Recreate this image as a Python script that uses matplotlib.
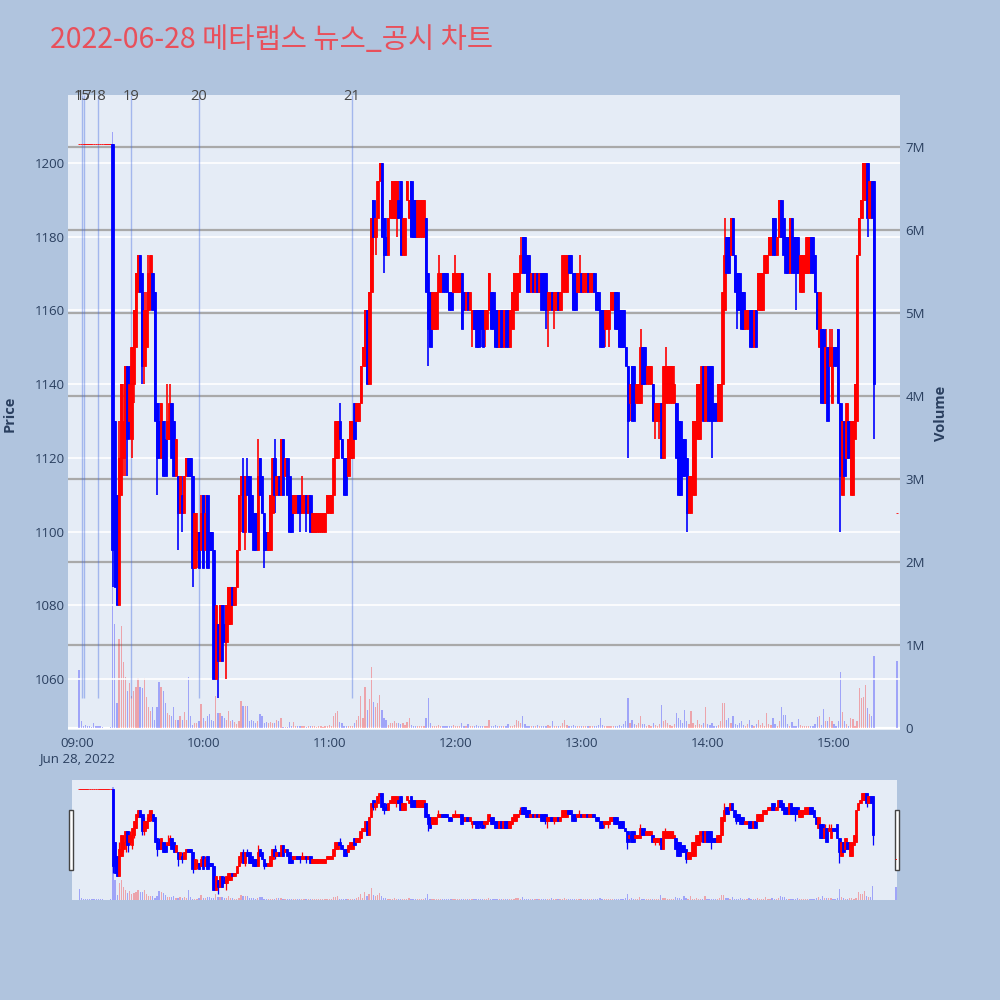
import numpy as np
import matplotlib
matplotlib.use('Agg')
import matplotlib.pyplot as plt
from matplotlib.patches import Rectangle
from matplotlib.transforms import blended_transform_factory

plt.rcParams['font.family'] = ['Open Sans', 'DejaVu Sans']

# 분 단위 (09:00 기준 경과 분)
minute = list(range(1, 380)) + [390]

open_ = [
    1205, 1205, 1205, 1205, 1205, 1205, 1205, 1205, 1205, 1205,
    1205, 1205, 1205, 1205, 1205, 1205, 1205, 1130, 1110, 1080,
    1110, 1120, 1130, 1145, 1130, 1125, 1140, 1150, 1165, 1175,
    1170, 1145, 1150, 1160, 1165, 1170, 1165, 1135, 1130, 1120,
    1130, 1125, 1125, 1125, 1135, 1130, 1115, 1115, 1105, 1110,
    1105, 1115, 1120, 1120, 1115, 1090, 1095, 1100, 1095, 1110,
    1095, 1110, 1100, 1100, 1095, 1060, 1075, 1065, 1080, 1075,
    1070, 1075, 1075, 1085, 1080, 1085, 1095, 1110, 1115, 1100,
    1115, 1115, 1110, 1105, 1105, 1095, 1120, 1115, 1105, 1100,
    1095, 1095, 1105, 1120, 1110, 1115, 1110, 1125, 1115, 1120,
    1115, 1110, 1105, 1105, 1110, 1110, 1105, 1105, 1110, 1105,
    1110, 1100, 1100, 1100, 1100, 1100, 1100, 1100, 1105, 1105,
    1105, 1110, 1120, 1120, 1130, 1125, 1120, 1120, 1115, 1120,
    1120, 1135, 1130, 1130, 1135, 1145, 1145, 1160, 1140, 1165,
    1190, 1180, 1185, 1195, 1200, 1185, 1180, 1175, 1185, 1185,
    1185, 1185, 1190, 1195, 1175, 1175, 1190, 1185, 1195, 1190,
    1190, 1180, 1180, 1180, 1180, 1185, 1170, 1165, 1155, 1155,
    1155, 1165, 1165, 1170, 1170, 1170, 1165, 1165, 1165, 1165,
    1165, 1165, 1170, 1165, 1160, 1165, 1160, 1155, 1160, 1160,
    1160, 1160, 1160, 1155, 1155, 1160, 1165, 1165, 1160, 1160,
    1150, 1160, 1150, 1160, 1160, 1150, 1155, 1160, 1160, 1165,
    1170, 1180, 1180, 1175, 1175, 1165, 1170, 1165, 1170, 1165,
    1170, 1170, 1170, 1160, 1160, 1165, 1160, 1160, 1165, 1160,
    1165, 1165, 1165, 1175, 1175, 1170, 1170, 1165, 1165, 1170,
    1165, 1165, 1170, 1165, 1165, 1170, 1165, 1165, 1160, 1160,
    1155, 1155, 1155, 1160, 1160, 1165, 1165, 1160, 1160, 1160,
    1150, 1145, 1135, 1145, 1145, 1135, 1135, 1135, 1150, 1150,
    1140, 1140, 1140, 1140, 1130, 1130, 1130, 1135, 1120, 1135,
    1135, 1135, 1135, 1135, 1135, 1130, 1130, 1125, 1125, 1120,
    1105, 1105, 1110, 1110, 1125, 1125, 1140, 1145, 1130, 1145,
    1145, 1145, 1135, 1135, 1130, 1130, 1140, 1160, 1180, 1180,
    1175, 1185, 1175, 1170, 1170, 1165, 1165, 1155, 1155, 1160,
    1160, 1150, 1160, 1160, 1160, 1160, 1170, 1170, 1175, 1175,
    1185, 1185, 1175, 1180, 1190, 1185, 1180, 1180, 1170, 1185,
    1180, 1180, 1180, 1165, 1165, 1170, 1170, 1170, 1180, 1180,
    1175, 1165, 1150, 1155, 1155, 1135, 1150, 1145, 1135, 1150,
    1150, 1155, 1135, 1110, 1130, 1120, 1130, 1110, 1110, 1125,
    1130, 1175, 1185, 1190, 1190, 1200, 1185, 1195, 1195,
    1105]

high = [
    1205, 1205, 1205, 1205, 1205, 1205, 1205, 1205, 1205, 1205,
    1205, 1205, 1205, 1205, 1205, 1205, 1205, 1130, 1110, 1130,
    1140, 1140, 1145, 1145, 1145, 1150, 1160, 1170, 1175, 1175,
    1170, 1165, 1165, 1175, 1175, 1170, 1165, 1135, 1135, 1135,
    1130, 1130, 1140, 1140, 1135, 1130, 1125, 1115, 1115, 1115,
    1115, 1120, 1120, 1120, 1115, 1105, 1105, 1100, 1110, 1110,
    1110, 1110, 1100, 1100, 1095, 1080, 1075, 1080, 1080, 1080,
    1080, 1085, 1085, 1085, 1085, 1095, 1110, 1115, 1120, 1115,
    1120, 1115, 1110, 1105, 1105, 1125, 1120, 1115, 1105, 1100,
    1100, 1110, 1120, 1125, 1115, 1115, 1125, 1125, 1120, 1120,
    1115, 1110, 1110, 1110, 1110, 1110, 1115, 1110, 1110, 1110,
    1110, 1105, 1105, 1105, 1105, 1105, 1105, 1105, 1110, 1110,
    1110, 1120, 1130, 1130, 1135, 1125, 1120, 1120, 1125, 1130,
    1130, 1135, 1135, 1135, 1145, 1150, 1160, 1160, 1165, 1185,
    1190, 1185, 1195, 1200, 1200, 1185, 1185, 1185, 1190, 1195,
    1195, 1195, 1195, 1195, 1185, 1185, 1195, 1190, 1195, 1190,
    1190, 1190, 1190, 1190, 1190, 1185, 1170, 1165, 1165, 1165,
    1165, 1175, 1170, 1170, 1170, 1170, 1165, 1165, 1170, 1175,
    1170, 1170, 1170, 1165, 1165, 1165, 1165, 1160, 1160, 1160,
    1160, 1160, 1160, 1160, 1160, 1170, 1165, 1165, 1160, 1160,
    1160, 1160, 1160, 1160, 1160, 1160, 1165, 1170, 1170, 1170,
    1180, 1180, 1180, 1175, 1175, 1170, 1170, 1170, 1170, 1170,
    1170, 1170, 1170, 1165, 1165, 1165, 1165, 1165, 1165, 1165,
    1175, 1175, 1175, 1175, 1175, 1170, 1170, 1170, 1175, 1170,
    1170, 1170, 1170, 1170, 1170, 1170, 1165, 1165, 1160, 1160,
    1160, 1160, 1160, 1165, 1165, 1165, 1165, 1160, 1160, 1160,
    1150, 1145, 1140, 1145, 1145, 1140, 1140, 1155, 1150, 1150,
    1145, 1145, 1145, 1140, 1135, 1135, 1135, 1135, 1145, 1150,
    1145, 1145, 1145, 1145, 1135, 1130, 1130, 1125, 1125, 1120,
    1115, 1115, 1130, 1130, 1140, 1140, 1145, 1145, 1145, 1145,
    1145, 1145, 1135, 1135, 1140, 1140, 1165, 1185, 1180, 1180,
    1185, 1185, 1175, 1170, 1170, 1165, 1165, 1160, 1160, 1160,
    1160, 1160, 1160, 1170, 1170, 1170, 1175, 1175, 1180, 1180,
    1185, 1185, 1180, 1190, 1190, 1185, 1180, 1180, 1185, 1185,
    1180, 1180, 1180, 1175, 1175, 1175, 1180, 1180, 1180, 1180,
    1175, 1165, 1165, 1155, 1155, 1155, 1150, 1155, 1155, 1150,
    1150, 1155, 1135, 1130, 1130, 1135, 1130, 1130, 1130, 1140,
    1175, 1185, 1190, 1200, 1200, 1200, 1195, 1195, 1195,
    1105]

low = [
    1205, 1205, 1205, 1205, 1205, 1205, 1205, 1205, 1205, 1205,
    1205, 1205, 1205, 1205, 1205, 1205, 1085, 1085, 1080, 1080,
    1110, 1115, 1115, 1115, 1125, 1120, 1135, 1150, 1165, 1165,
    1140, 1140, 1150, 1160, 1160, 1160, 1130, 1110, 1120, 1120,
    1115, 1115, 1125, 1125, 1120, 1115, 1115, 1095, 1105, 1100,
    1105, 1115, 1115, 1115, 1085, 1090, 1090, 1090, 1095, 1090,
    1095, 1090, 1095, 1095, 1060, 1060, 1055, 1065, 1065, 1070,
    1060, 1075, 1075, 1080, 1080, 1085, 1095, 1100, 1100, 1095,
    1110, 1100, 1100, 1095, 1095, 1095, 1110, 1105, 1090, 1095,
    1095, 1095, 1105, 1105, 1110, 1110, 1110, 1110, 1115, 1110,
    1100, 1100, 1105, 1105, 1105, 1100, 1105, 1105, 1100, 1105,
    1100, 1100, 1100, 1100, 1100, 1100, 1100, 1100, 1105, 1105,
    1105, 1110, 1120, 1120, 1125, 1120, 1110, 1110, 1115, 1120,
    1120, 1125, 1130, 1130, 1135, 1145, 1145, 1140, 1140, 1165,
    1175, 1175, 1185, 1195, 1180, 1170, 1175, 1175, 1185, 1185,
    1185, 1180, 1185, 1175, 1175, 1175, 1190, 1185, 1180, 1180,
    1180, 1180, 1180, 1180, 1180, 1165, 1145, 1150, 1155, 1155,
    1155, 1165, 1165, 1165, 1165, 1165, 1160, 1160, 1165, 1165,
    1165, 1165, 1155, 1160, 1160, 1160, 1160, 1150, 1155, 1150,
    1150, 1150, 1150, 1150, 1155, 1160, 1155, 1155, 1150, 1150,
    1150, 1150, 1150, 1150, 1150, 1150, 1155, 1160, 1160, 1165,
    1170, 1170, 1170, 1165, 1165, 1165, 1165, 1165, 1165, 1165,
    1160, 1160, 1155, 1150, 1160, 1160, 1155, 1160, 1160, 1160,
    1165, 1165, 1165, 1170, 1170, 1160, 1160, 1165, 1165, 1165,
    1165, 1165, 1165, 1165, 1165, 1165, 1160, 1160, 1150, 1150,
    1150, 1155, 1150, 1160, 1160, 1155, 1155, 1150, 1150, 1150,
    1145, 1120, 1130, 1130, 1130, 1135, 1135, 1135, 1140, 1140,
    1140, 1140, 1140, 1130, 1125, 1130, 1125, 1120, 1120, 1135,
    1135, 1135, 1135, 1135, 1120, 1110, 1110, 1115, 1115, 1100,
    1105, 1105, 1110, 1110, 1125, 1125, 1130, 1130, 1130, 1130,
    1130, 1120, 1130, 1130, 1130, 1130, 1140, 1160, 1170, 1170,
    1175, 1175, 1165, 1155, 1160, 1155, 1155, 1155, 1155, 1150,
    1150, 1150, 1150, 1160, 1160, 1160, 1170, 1170, 1175, 1175,
    1175, 1175, 1175, 1180, 1180, 1175, 1170, 1170, 1170, 1170,
    1170, 1160, 1170, 1165, 1165, 1170, 1170, 1170, 1170, 1170,
    1165, 1155, 1150, 1135, 1135, 1135, 1130, 1145, 1135, 1145,
    1145, 1135, 1100, 1110, 1115, 1120, 1120, 1110, 1110, 1125,
    1130, 1175, 1185, 1190, 1190, 1180, 1185, 1185, 1125,
    1105]

close = [
    1205, 1205, 1205, 1205, 1205, 1205, 1205, 1205, 1205, 1205,
    1205, 1205, 1205, 1205, 1205, 1205, 1095, 1085, 1080, 1120,
    1140, 1130, 1145, 1125, 1140, 1150, 1160, 1170, 1175, 1165,
    1145, 1160, 1160, 1170, 1175, 1160, 1130, 1120, 1120, 1135,
    1115, 1115, 1130, 1135, 1120, 1115, 1125, 1105, 1115, 1105,
    1115, 1120, 1115, 1115, 1090, 1105, 1100, 1090, 1105, 1090,
    1105, 1090, 1095, 1095, 1060, 1080, 1065, 1080, 1065, 1070,
    1080, 1085, 1085, 1080, 1085, 1095, 1110, 1115, 1100, 1115,
    1110, 1100, 1100, 1095, 1095, 1115, 1110, 1105, 1095, 1095,
    1100, 1110, 1120, 1110, 1115, 1110, 1125, 1110, 1120, 1110,
    1100, 1100, 1110, 1110, 1105, 1105, 1110, 1110, 1105, 1110,
    1100, 1105, 1105, 1105, 1105, 1105, 1105, 1105, 1110, 1110,
    1110, 1120, 1130, 1130, 1125, 1120, 1110, 1110, 1125, 1130,
    1130, 1125, 1135, 1135, 1145, 1150, 1160, 1140, 1165, 1185,
    1180, 1185, 1195, 1200, 1180, 1175, 1175, 1185, 1190, 1195,
    1195, 1195, 1185, 1175, 1185, 1185, 1195, 1190, 1180, 1180,
    1180, 1190, 1190, 1190, 1190, 1165, 1155, 1150, 1165, 1165,
    1165, 1170, 1170, 1165, 1165, 1165, 1160, 1160, 1170, 1170,
    1170, 1170, 1155, 1160, 1165, 1160, 1165, 1160, 1155, 1150,
    1150, 1155, 1150, 1160, 1160, 1170, 1155, 1155, 1150, 1150,
    1160, 1150, 1160, 1150, 1150, 1160, 1165, 1170, 1170, 1170,
    1175, 1170, 1170, 1165, 1165, 1170, 1165, 1170, 1165, 1170,
    1160, 1160, 1160, 1165, 1165, 1160, 1165, 1165, 1160, 1165,
    1175, 1175, 1175, 1170, 1170, 1160, 1160, 1170, 1170, 1165,
    1170, 1170, 1165, 1170, 1170, 1165, 1160, 1160, 1150, 1150,
    1160, 1160, 1160, 1165, 1165, 1155, 1155, 1150, 1150, 1150,
    1145, 1130, 1140, 1130, 1130, 1140, 1140, 1150, 1140, 1140,
    1145, 1145, 1145, 1130, 1135, 1135, 1135, 1120, 1145, 1145,
    1145, 1145, 1145, 1140, 1120, 1110, 1110, 1115, 1115, 1105,
    1115, 1115, 1130, 1130, 1140, 1140, 1145, 1130, 1145, 1130,
    1130, 1130, 1130, 1130, 1140, 1140, 1165, 1175, 1170, 1170,
    1185, 1175, 1165, 1160, 1160, 1155, 1155, 1160, 1160, 1150,
    1150, 1160, 1150, 1170, 1170, 1170, 1175, 1175, 1180, 1180,
    1175, 1175, 1180, 1190, 1180, 1175, 1170, 1170, 1185, 1170,
    1170, 1170, 1170, 1175, 1175, 1175, 1180, 1180, 1170, 1170,
    1165, 1155, 1165, 1135, 1135, 1150, 1130, 1150, 1150, 1145,
    1145, 1135, 1115, 1130, 1115, 1135, 1120, 1130, 1130, 1140,
    1175, 1185, 1190, 1200, 1200, 1185, 1195, 1185, 1140,
    1105]

# 거래량 (백만 주)
volume = [
    0.70, 0.09, 0.02, 0.04, 0.03, 0.03, 0.01, 0.06, 0.02, 0.03,
    0.02, 0.01, 0.00, 0.00, 0.00, 0.01, 7.18, 1.25, 0.30, 1.07,
    1.23, 0.80, 0.61, 0.45, 0.54, 0.38, 0.45, 0.49, 0.60, 0.49,
    0.48, 0.60, 0.37, 0.25, 0.21, 0.25, 0.10, 0.25, 0.55, 0.50,
    0.45, 0.30, 0.18, 0.16, 0.14, 0.25, 0.10, 0.10, 0.15, 0.10,
    0.19, 0.10, 0.61, 0.15, 0.04, 0.06, 0.06, 0.08, 0.29, 0.12,
    0.08, 0.14, 0.17, 0.10, 0.08, 0.39, 0.18, 0.18, 0.14, 0.12,
    0.10, 0.20, 0.08, 0.10, 0.07, 0.05, 0.08, 0.32, 0.26, 0.26,
    0.26, 0.08, 0.10, 0.08, 0.06, 0.08, 0.17, 0.14, 0.06, 0.07,
    0.06, 0.07, 0.06, 0.06, 0.10, 0.09, 0.12, 0.01, 0.01, 0.01,
    0.07, 0.03, 0.07, 0.02, 0.02, 0.02, 0.02, 0.02, 0.01, 0.02,
    0.02, 0.02, 0.02, 0.01, 0.02, 0.02, 0.01, 0.02, 0.02, 0.04,
    0.02, 0.14, 0.18, 0.20, 0.07, 0.06, 0.02, 0.02, 0.02, 0.02,
    0.02, 0.06, 0.10, 0.14, 0.38, 0.12, 0.49, 0.22, 0.35, 0.73,
    0.31, 0.25, 0.30, 0.40, 0.22, 0.12, 0.10, 0.04, 0.06, 0.06,
    0.08, 0.06, 0.06, 0.05, 0.06, 0.04, 0.07, 0.12, 0.04, 0.03,
    0.03, 0.02, 0.03, 0.02, 0.03, 0.12, 0.36, 0.06, 0.03, 0.03,
    0.02, 0.04, 0.03, 0.02, 0.03, 0.02, 0.02, 0.03, 0.04, 0.03,
    0.02, 0.03, 0.06, 0.03, 0.02, 0.05, 0.02, 0.03, 0.02, 0.04,
    0.03, 0.02, 0.03, 0.02, 0.03, 0.10, 0.03, 0.02, 0.04, 0.02,
    0.03, 0.02, 0.03, 0.02, 0.05, 0.02, 0.03, 0.04, 0.10, 0.08,
    0.06, 0.15, 0.05, 0.03, 0.02, 0.03, 0.02, 0.03, 0.04, 0.02,
    0.03, 0.02, 0.03, 0.04, 0.02, 0.08, 0.03, 0.02, 0.03, 0.02,
    0.06, 0.10, 0.04, 0.03, 0.02, 0.04, 0.02, 0.03, 0.02, 0.03,
    0.02, 0.03, 0.02, 0.02, 0.03, 0.02, 0.03, 0.04, 0.12, 0.04,
    0.03, 0.02, 0.03, 0.02, 0.03, 0.02, 0.03, 0.04, 0.03, 0.05,
    0.08, 0.36, 0.06, 0.10, 0.05, 0.04, 0.06, 0.15, 0.05, 0.05,
    0.03, 0.04, 0.02, 0.06, 0.04, 0.03, 0.05, 0.28, 0.08, 0.10,
    0.06, 0.04, 0.03, 0.05, 0.18, 0.12, 0.10, 0.06, 0.22, 0.08,
    0.05, 0.20, 0.06, 0.04, 0.10, 0.05, 0.04, 0.06, 0.25, 0.05,
    0.04, 0.06, 0.03, 0.02, 0.04, 0.08, 0.30, 0.30, 0.10, 0.12,
    0.06, 0.15, 0.05, 0.04, 0.06, 0.08, 0.04, 0.03, 0.05, 0.10,
    0.04, 0.03, 0.05, 0.10, 0.04, 0.06, 0.03, 0.18, 0.05, 0.04,
    0.12, 0.05, 0.03, 0.08, 0.25, 0.16, 0.16, 0.05, 0.02, 0.07,
    0.03, 0.03, 0.11, 0.04, 0.03, 0.02, 0.02, 0.03, 0.02, 0.02,
    0.05, 0.13, 0.14, 0.04, 0.23, 0.09, 0.08, 0.13, 0.09, 0.05,
    0.03, 0.08, 0.67, 0.19, 0.08, 0.05, 0.03, 0.12, 0.11, 0.02,
    0.08, 0.48, 0.36, 0.37, 0.52, 0.24, 0.17, 0.14, 0.87,
    0.81]

# 뉴스/공시 시점 (분) 과 번호
news_min = [2.2, 3.5, 9.9, 25.7, 57.8, 130.8]
news_label = ['15', '17', '18', '19', '20', '21']

tick_min = [0, 60, 120, 180, 240, 300, 360]
tick_label = ['09:00\nJun 28, 2022', '10:00', '11:00', '12:00', '13:00', '14:00', '15:00']
price_ticks = [1060, 1080, 1100, 1120, 1140, 1160, 1180, 1200]
vol_ticks = [0, 1, 2, 3, 4, 5, 6, 7]
vol_tick_label = ['0', '1M', '2M', '3M', '4M', '5M', '6M', '7M']

TITLE = '2022-06-28 메타랩스 뉴스_공시 차트'
BG = '#B0C4DE'
PLOT_BG = '#E5ECF6'
TXT = '#2a3f5f'
UP = '#FF0000'
DOWN = '#0000FF'

PRICE_LIM = (1046.2, 1218.4)
VOL_LIM = (-0.024, 7.627)

x = np.array(minute, dtype=float)
o = np.array(open_, dtype=float)
h = np.array(high, dtype=float)
l = np.array(low, dtype=float)
c = np.array(close, dtype=float)
v = np.array(volume, dtype=float)

candle_col = np.where(c >= o, UP, DOWN)
vol_col = np.where(c > o, UP, DOWN)


def draw(ax_v, ax_p, wick_lw, body_w):
    # 거래량
    ax_v.bar(x, v, width=0.6, color=vol_col, alpha=0.3, linewidth=0)
    ax_v.set_ylim(*VOL_LIM)
    # 캔들
    ax_p.vlines(x, l, h, colors=candle_col, linewidth=wick_lw, zorder=3)
    ax_p.bar(x, np.abs(c - o), bottom=np.minimum(o, c), width=body_w,
             color=candle_col, edgecolor=candle_col, linewidth=0.6, zorder=3)
    ax_p.set_ylim(*PRICE_LIM)
    for a in (ax_v, ax_p):
        for s in a.spines.values():
            s.set_visible(False)


fig = plt.figure(figsize=(10, 10), dpi=100, facecolor=BG)

# 메인 차트
ax_v = fig.add_axes([0.068, 0.27, 0.832, 0.635], facecolor=PLOT_BG)
ax_p = ax_v.twinx()
ax_v.yaxis.tick_right()
ax_p.yaxis.tick_left()
draw(ax_v, ax_p, 1.2, 1.2)
ax_v.set_xlim(-4.28, 391.4)

for t in vol_ticks[1:]:
    ax_v.axhline(t, color='#A9A9A9', linewidth=1.6, zorder=0.5)
ax_v.axhline(0, color='white', linewidth=1.6, zorder=0.5)
ax_v.set_yticks(vol_ticks, vol_tick_label)
ax_v.tick_params(axis='y', length=0, pad=4, labelsize=9.5, labelcolor=TXT)
ax_v.set_xticks(tick_min, tick_label)
ax_v.tick_params(axis='x', length=0, pad=5, labelsize=9.5, labelcolor=TXT)

ax_p.set_yticks(price_ticks)
ax_p.grid(axis='y', color='white', linewidth=1.2)
ax_p.set_axisbelow(True)
ax_p.tick_params(axis='y', length=0, pad=2, labelsize=9.5, labelcolor=TXT)

# 뉴스 표시선
ax_p.vlines(news_min, 1055, PRICE_LIM[1], colors='#4169E1', alpha=0.4,
            linewidth=1, zorder=2)
tr = blended_transform_factory(ax_p.transData, ax_p.transAxes)
for nm, nl in zip(news_min, news_label):
    ax_p.text(nm, 0.997, nl, transform=tr, ha='center', va='center',
              fontsize=10.5, color='#444444', zorder=5)

# 레인지 슬라이더
ax_sv = fig.add_axes([0.072, 0.10, 0.825, 0.12], facecolor=PLOT_BG)
ax_sp = ax_sv.twinx()
draw(ax_sv, ax_sp, 0.9, 1.2)
ax_sv.set_xlim(-2.5, 390.5)
for a in (ax_sv, ax_sp):
    a.set_xticks([])
    a.set_yticks([])
for hx in (-0.0035, 0.9975):
    ax_sv.add_patch(Rectangle((hx, 0.25), 0.005, 0.5, transform=ax_sv.transAxes,
                              facecolor='white', edgecolor='#444444',
                              linewidth=1, clip_on=False, zorder=10))

# 제목 / 축 제목
fig.text(0.05, 0.96, TITLE, fontsize=20.5, color='#E8505B', va='center',
         family=['Noto Sans CJK KR', 'DejaVu Sans'])
fig.text(0.010, 0.586, 'Price', rotation=90, ha='center', va='center',
         fontsize=10.5, fontweight='bold', color=TXT)
fig.text(0.941, 0.587, 'Volume', rotation=90, ha='center', va='center',
         fontsize=10.5, fontweight='bold', color=TXT)

fig.savefig('out.png', dpi=100, facecolor=BG)
